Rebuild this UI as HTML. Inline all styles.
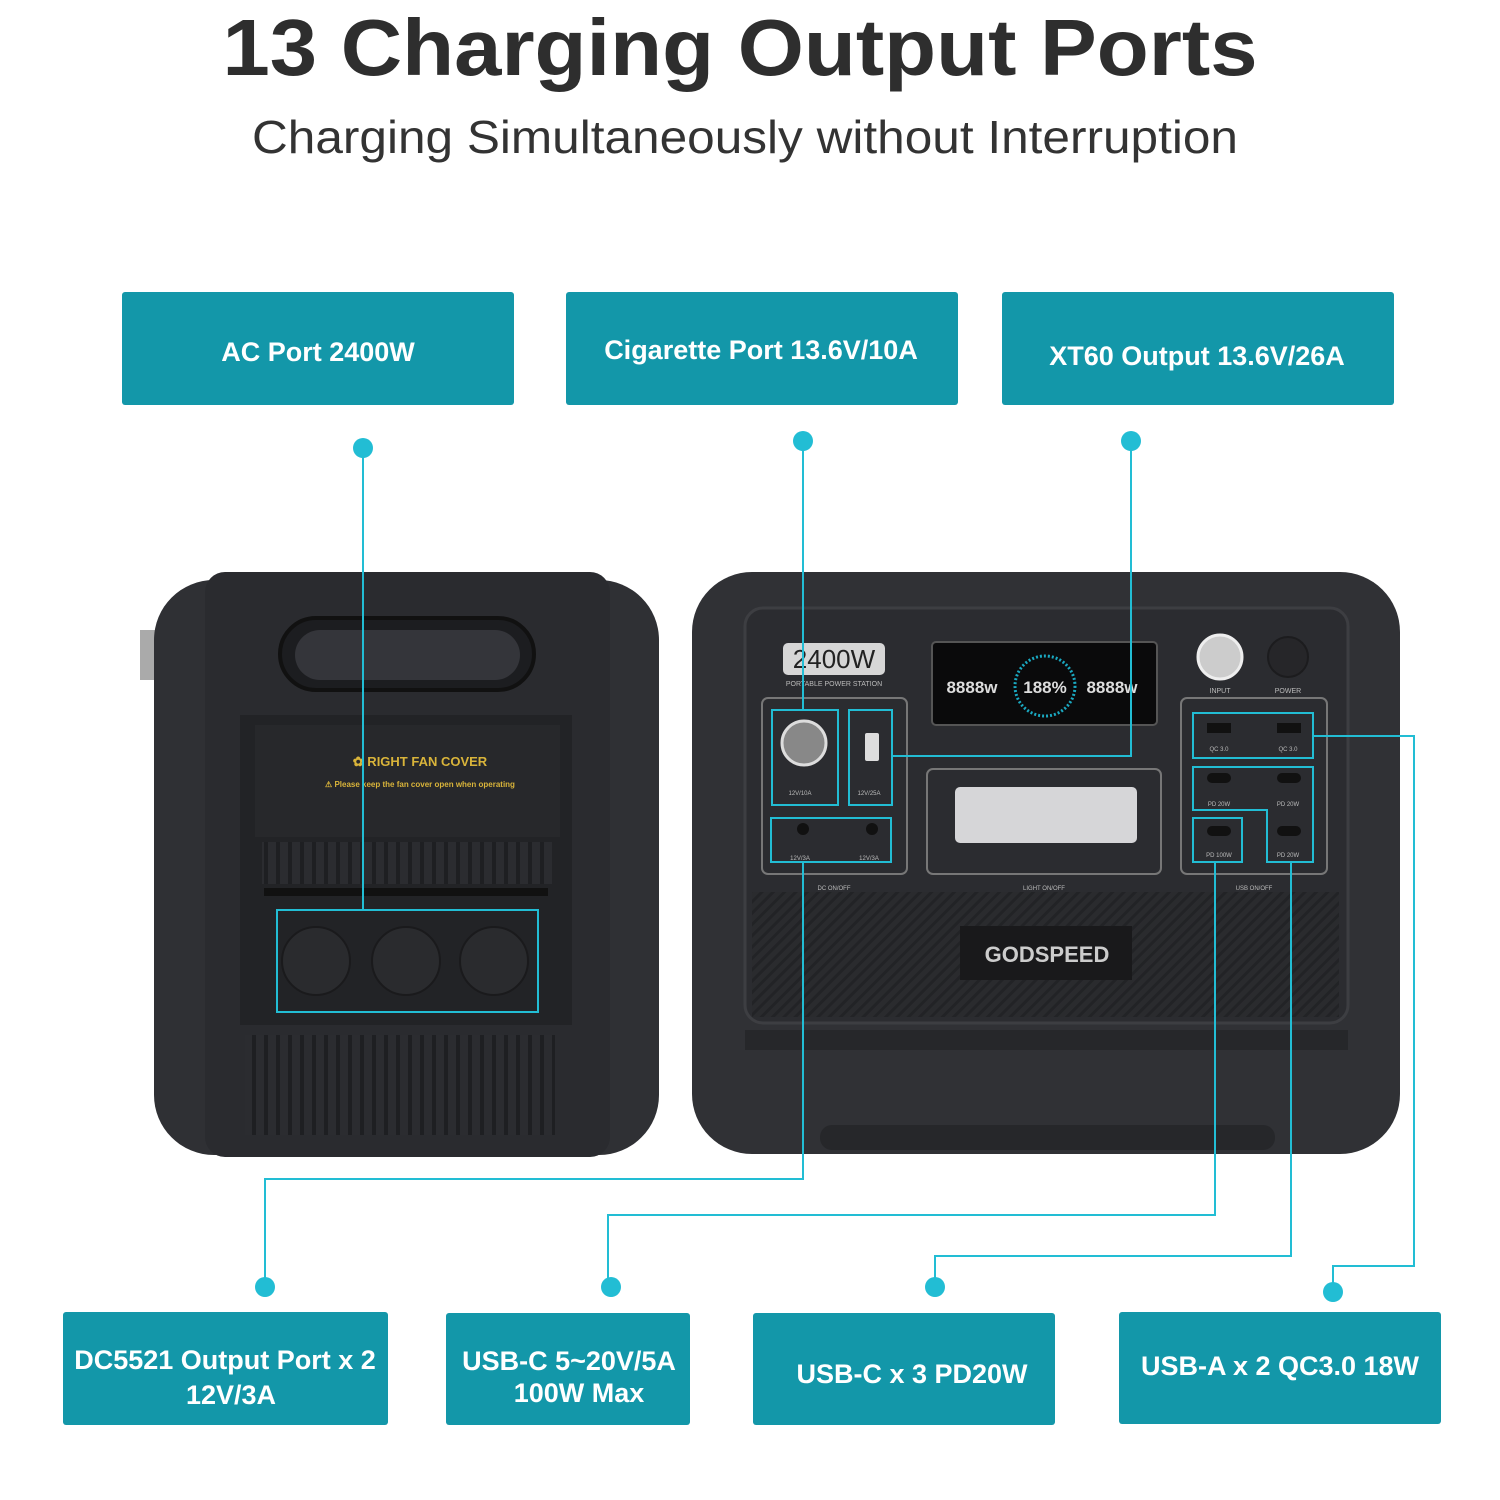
<!DOCTYPE html>
<html><head><meta charset="utf-8"><style>
html,body{margin:0;padding:0;background:#fff;}
svg{display:block;}
</style></head><body>
<svg width="1500" height="1500" viewBox="0 0 1500 1500" xmlns="http://www.w3.org/2000/svg" font-family="Liberation Sans, sans-serif">
<defs>
<pattern id="diag" width="8" height="8" patternUnits="userSpaceOnUse" patternTransform="rotate(45)">
<rect width="8" height="8" fill="#2a2b2e"/><rect width="3" height="8" fill="#222326"/></pattern>
<pattern id="vert" width="12" height="10" patternUnits="userSpaceOnUse">
<rect width="12" height="10" fill="#2b2c30"/><rect width="4" height="10" fill="#1e1f22"/></pattern>
</defs>
<text x="740" y="75" text-anchor="middle" font-size="80" font-weight="bold" fill="#2e2e2e" textLength="1035" lengthAdjust="spacingAndGlyphs">13 Charging Output Ports</text>
<text x="745" y="153" text-anchor="middle" font-size="46" fill="#333" textLength="986" lengthAdjust="spacingAndGlyphs">Charging Simultaneously without Interruption</text>

<g fill="#1397a9">
<rect x="122" y="292" width="392" height="113" rx="3"/>
<rect x="566" y="292" width="392" height="113" rx="3"/>
<rect x="1002" y="292" width="392" height="113" rx="3"/>
<rect x="63" y="1312" width="325" height="113" rx="3"/>
<rect x="446" y="1313" width="244" height="112" rx="3"/>
<rect x="753" y="1313" width="302" height="112" rx="3"/>
<rect x="1119" y="1312" width="322" height="112" rx="3"/>
</g>
<g fill="#fff" font-size="27" font-weight="bold" text-anchor="middle">
<text x="318" y="361">AC Port  2400W</text>
<text x="761" y="359">Cigarette Port   13.6V/10A</text>
<text x="1197" y="365">XT60 Output  13.6V/26A</text>
<text x="225" y="1369">DC5521 Output  Port x 2</text>
<text x="231" y="1404">12V/3A</text>
<text x="569" y="1370">USB-C 5~20V/5A</text>
<text x="579" y="1402">100W Max</text>
<text x="912" y="1383">USB-C x 3   PD20W</text>
<text x="1280" y="1375">USB-A x 2     QC3.0 18W</text>
</g>

<!-- left device -->
<rect x="140" y="630" width="20" height="50" fill="#aaa"/>
<rect x="154" y="580" width="505" height="575" rx="60" fill="#2f3034"/>
<rect x="205" y="572" width="405" height="585" rx="20" fill="#2a2b2f"/>
<rect x="280" y="618" width="254" height="72" rx="36" fill="#1c1d20" stroke="#111" stroke-width="4"/>
<rect x="295" y="630" width="225" height="50" rx="25" fill="#34353a"/>
<rect x="240" y="715" width="332" height="310" fill="#222326"/>
<rect x="255" y="725" width="305" height="112" fill="#27282b"/>
<text x="420" y="766" text-anchor="middle" font-size="13" font-weight="bold" fill="#d9b43a">✿ RIGHT FAN COVER</text>
<text x="420" y="787" text-anchor="middle" font-size="8" font-weight="bold" fill="#d9b43a">⚠ Please keep the fan cover open when operating</text>
<rect x="262" y="842" width="290" height="42" fill="url(#vert)"/>
<rect x="264" y="888" width="284" height="8" fill="#111"/>
<rect x="245" y="1035" width="310" height="100" fill="url(#vert)"/>
<g fill="#2a2b2e" stroke="#1a1a1c" stroke-width="2">
<circle cx="316" cy="961" r="34"/><circle cx="406" cy="961" r="34"/><circle cx="494" cy="961" r="34"/>
</g>
<rect x="277" y="910" width="261" height="102" fill="none" stroke="#22bdd4" stroke-width="2"/>

<!-- right device -->
<rect x="692" y="572" width="708" height="582" rx="60" fill="#303135"/>
<rect x="745" y="608" width="603" height="415" rx="18" fill="#2b2c30" stroke="#3d3e42" stroke-width="3"/>
<rect x="752" y="892" width="587" height="125" fill="url(#diag)"/>
<rect x="745" y="1030" width="603" height="20" fill="#26272a"/>
<rect x="820" y="1125" width="455" height="25" rx="12" fill="#26272a"/>
<rect x="783" y="643" width="102" height="32" rx="5" fill="#d6d6d6"/>
<text x="834" y="668" text-anchor="middle" font-size="26" fill="#222">2400W</text>
<text x="834" y="686" text-anchor="middle" font-size="7" fill="#bbb">PORTABLE POWER STATION</text>
<rect x="932" y="642" width="225" height="83" rx="4" fill="#0a0a0b" stroke="#555" stroke-width="2"/>
<text x="972" y="693" text-anchor="middle" font-size="17" font-weight="bold" fill="#ddd">8888w</text>
<text x="1045" y="693" text-anchor="middle" font-size="17" font-weight="bold" fill="#ddd">188%</text>
<text x="1112" y="693" text-anchor="middle" font-size="17" font-weight="bold" fill="#ddd">8888w</text>
<circle cx="1045" cy="686" r="30" fill="none" stroke="#1aa8c0" stroke-width="3" stroke-dasharray="2 2"/>
<circle cx="1220" cy="657" r="22" fill="#ccc" stroke="#eee" stroke-width="3"/>
<circle cx="1288" cy="657" r="20" fill="#262629" stroke="#1c1c1e" stroke-width="2"/>
<text x="1220" y="693" text-anchor="middle" font-size="7" fill="#bbb">INPUT</text>
<text x="1288" y="693" text-anchor="middle" font-size="7" fill="#bbb">POWER</text>
<rect x="762" y="698" width="145" height="176" rx="6" fill="none" stroke="#777" stroke-width="2"/>
<rect x="927" y="769" width="234" height="105" rx="6" fill="none" stroke="#777" stroke-width="2"/>
<rect x="955" y="787" width="182" height="56" rx="5" fill="#d6d6d8"/>
<rect x="1181" y="698" width="146" height="176" rx="6" fill="none" stroke="#777" stroke-width="2"/>
<circle cx="804" cy="743" r="22" fill="#888" stroke="#ddd" stroke-width="3"/>
<rect x="865" y="733" width="14" height="28" rx="2" fill="#ddd"/>
<g fill="#111"><circle cx="803" cy="829" r="6"/><circle cx="872" cy="829" r="6"/>
<rect x="1207" y="723" width="24" height="10"/><rect x="1277" y="723" width="24" height="10"/>
<rect x="1207" y="773" width="24" height="10" rx="5"/><rect x="1277" y="773" width="24" height="10" rx="5"/>
<rect x="1207" y="826" width="24" height="10" rx="5"/><rect x="1277" y="826" width="24" height="10" rx="5"/></g>
<g font-size="6" fill="#bbb" text-anchor="middle">
<text x="800" y="795">12V/10A</text><text x="869" y="795">12V/25A</text>
<text x="800" y="860">12V/3A</text><text x="869" y="860">12V/3A</text>
<text x="1219" y="751">QC 3.0</text><text x="1288" y="751">QC 3.0</text>
<text x="1219" y="806">PD 20W</text><text x="1288" y="806">PD 20W</text>
<text x="1219" y="857">PD 100W</text><text x="1288" y="857">PD 20W</text>
<text x="834" y="890">DC ON/OFF</text><text x="1044" y="890">LIGHT ON/OFF</text><text x="1254" y="890">USB ON/OFF</text>
</g>
<rect x="960" y="926" width="172" height="54" fill="#19191b"/>
<text x="1047" y="962" text-anchor="middle" font-size="22" font-weight="bold" fill="#ccc">GODSPEED</text>

<g fill="none" stroke="#22bdd4" stroke-width="2">
<rect x="772" y="710" width="66" height="95"/>
<rect x="849" y="710" width="43" height="95"/>
<rect x="771" y="818" width="120" height="44"/>
<rect x="1193" y="713" width="120" height="45"/>
<path d="M1193 810 V767 H1313 V862 H1267 V810 Z"/>
<rect x="1193" y="818" width="49" height="44"/>
<path d="M363 448 V910"/>
<path d="M803 441 V710"/>
<path d="M1131 441 V756 H893"/>
<path d="M803 862 V1179 H265 V1287"/>
<path d="M1215 862 V1215 H608 V1287"/>
<path d="M1291 862 V1256 H935 V1287"/>
<path d="M1313 736 H1414 V1266 H1333 V1292"/>
</g>
<g fill="#22bdd4">
<circle cx="363" cy="448" r="10"/><circle cx="803" cy="441" r="10"/><circle cx="1131" cy="441" r="10"/>
<circle cx="265" cy="1287" r="10"/><circle cx="611" cy="1287" r="10"/><circle cx="935" cy="1287" r="10"/><circle cx="1333" cy="1292" r="10"/>
</g>
</svg>
</body></html>
